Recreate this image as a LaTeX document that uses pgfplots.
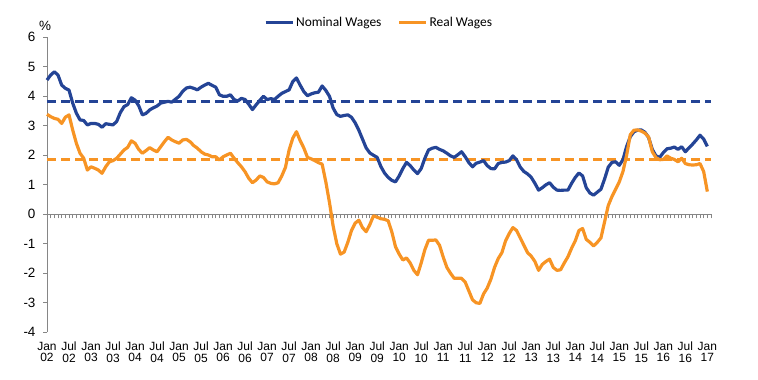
\documentclass[border=0pt]{standalone}
\usepackage{fontspec}
\setmainfont{Liberation Sans}
\newfontfamily\legendfont{Carlito}
\usepackage{pgfplots}
\usepackage{pgfplotstable}
\pgfplotsset{compat=1.18}
\definecolor{nomblue}{RGB}{36,68,150}
\definecolor{realorange}{RGB}{247,148,36}
\definecolor{axgray}{RGB}{134,134,134}

\pgfplotstableread{
m nom real
0 4.55 3.39
1 4.72 3.31
2 4.83 3.25
3 4.72 3.22
4 4.38 3.08
5 4.27 3.29
6 4.21 3.37
7 3.77 2.86
8 3.43 2.41
9 3.20 2.07
10 3.18 1.90
11 3.03 1.50
12 3.08 1.61
13 3.08 1.56
14 3.05 1.50
15 2.95 1.39
16 3.07 1.61
17 3.05 1.78
18 3.03 1.82
19 3.15 1.90
20 3.45 2.04
21 3.65 2.18
22 3.72 2.27
23 3.95 2.49
24 3.87 2.41
25 3.68 2.20
26 3.37 2.07
27 3.42 2.16
28 3.54 2.26
29 3.61 2.18
30 3.67 2.12
31 3.77 2.29
32 3.80 2.46
33 3.83 2.61
34 3.80 2.52
35 3.90 2.46
36 4.00 2.41
37 4.17 2.52
38 4.28 2.54
39 4.31 2.46
40 4.27 2.33
41 4.22 2.24
42 4.31 2.12
43 4.38 2.04
44 4.44 2.01
45 4.37 1.95
46 4.31 1.95
47 4.05 1.84
48 4.00 1.95
49 4.00 2.01
50 4.05 2.07
51 3.89 1.90
52 3.84 1.75
53 3.93 1.61
54 3.89 1.44
55 3.73 1.22
56 3.55 1.07
57 3.71 1.16
58 3.86 1.30
59 4.00 1.25
60 3.89 1.10
61 3.92 1.05
62 3.89 1.03
63 4.00 1.07
64 4.10 1.30
65 4.16 1.59
66 4.22 2.18
67 4.50 2.58
68 4.62 2.80
69 4.38 2.50
70 4.16 2.25
71 4.02 1.93
72 4.08 1.88
73 4.12 1.82
74 4.14 1.75
75 4.35 1.70
76 4.20 1.10
77 4.00 0.40
78 3.60 -0.40
79 3.38 -1.00
80 3.32 -1.35
81 3.35 -1.28
82 3.37 -0.95
83 3.29 -0.55
84 3.10 -0.30
85 2.85 -0.20
86 2.55 -0.45
87 2.25 -0.59
88 2.08 -0.35
89 2.00 -0.05
90 1.93 -0.10
91 1.62 -0.15
92 1.40 -0.17
93 1.25 -0.22
94 1.15 -0.60
95 1.10 -1.10
96 1.30 -1.35
97 1.55 -1.55
98 1.76 -1.48
99 1.65 -1.65
100 1.50 -1.90
101 1.38 -2.05
102 1.55 -1.65
103 1.90 -1.20
104 2.18 -0.88
105 2.24 -0.88
106 2.27 -0.87
107 2.20 -1.05
108 2.15 -1.45
109 2.07 -1.80
110 1.98 -2.00
111 1.93 -2.17
112 2.02 -2.17
113 2.12 -2.17
114 1.95 -2.30
115 1.75 -2.60
116 1.61 -2.90
117 1.73 -3.00
118 1.77 -3.02
119 1.82 -2.70
120 1.65 -2.50
121 1.55 -2.20
122 1.54 -1.80
123 1.72 -1.50
124 1.76 -1.30
125 1.77 -0.90
126 1.82 -0.65
127 1.98 -0.45
128 1.85 -0.55
129 1.60 -0.80
130 1.45 -1.05
131 1.37 -1.30
132 1.25 -1.42
133 1.05 -1.60
134 0.82 -1.90
135 0.90 -1.70
136 1.00 -1.60
137 1.07 -1.52
138 0.92 -1.80
139 0.82 -1.90
140 0.81 -1.88
141 0.82 -1.65
142 0.82 -1.44
143 1.05 -1.15
144 1.25 -0.90
145 1.40 -0.55
146 1.30 -0.48
147 0.90 -0.85
148 0.72 -0.95
149 0.65 -1.07
150 0.75 -0.95
151 0.85 -0.80
152 1.20 -0.25
153 1.60 0.30
154 1.76 0.60
155 1.78 0.85
156 1.66 1.10
157 1.85 1.45
158 2.30 2.00
159 2.63 2.70
160 2.80 2.85
161 2.85 2.86
162 2.86 2.82
163 2.78 2.75
164 2.60 2.62
165 2.20 2.12
166 1.98 1.92
167 1.93 1.85
168 2.09 1.86
169 2.22 1.98
170 2.24 1.90
171 2.28 1.86
172 2.20 1.78
173 2.29 1.90
174 2.12 1.72
175 2.25 1.68
176 2.38 1.67
177 2.52 1.68
178 2.68 1.72
179 2.55 1.45
180 2.30 0.77
}\wagedata

\begin{document}
\begin{tikzpicture}
\useasboundingbox (0,0) rectangle (758bp,380bp);
% zero line with monthly ticks
\begin{axis}[
  at={(47bp,47.7bp)}, anchor=south west,
  scale only axis, width=664bp, height=295bp,
  xmin=0, xmax=181, ymin=-4, ymax=6,
  axis x line*=middle, axis y line=none,
  x axis line style={draw=axgray, line width=1pt},
  xtick={0,...,181}, xticklabels={},
  ytick=\empty,
  tick align=outside, major tick length=4bp,
  x tick style={draw=axgray, line width=0.7pt},
]
\end{axis}
\begin{axis}[
  at={(47bp,47.7bp)}, anchor=south west,
  scale only axis, width=664bp, height=295bp,
  xmin=0, xmax=181, ymin=-4, ymax=6,
  axis y line*=left, axis x line*=bottom,
  x axis line style={draw=none},
  y axis line style={draw=axgray, line width=1pt},
  ytick={-4,...,6},
  yticklabels={-4,-3,-2,-1,0,1,2,3,4,5,6},
  y tick style={draw=axgray, line width=1pt},
  tick align=outside, major tick length=4bp,
  yticklabel style={font=\fontsize{13.5}{15}\selectfont, xshift=-4bp},
  xtick={0,6,...,180},
  xticklabels={{Jan\\02},{Jul\\02},{Jan\\03},{Jul\\03},{Jan\\04},{Jul\\04},{Jan\\05},{Jul\\05},{Jan\\06},{Jul\\06},{Jan\\07},{Jul\\07},{Jan\\08},{Jul\\08},{Jan\\09},{Jul\\09},{Jan\\10},{Jul\\10},{Jan\\11},{Jul\\11},{Jan\\12},{Jul\\12},{Jan\\13},{Jul\\13},{Jan\\14},{Jul\\14},{Jan\\15},{Jul\\15},{Jan\\16},{Jul\\16},{Jan\\17}},
  x tick style={draw=none},
  xticklabel style={align=center, font=\fontsize{12}{11.8}\selectfont, yshift=-2bp},
  legend style={at={(0.5,1.051)}, anchor=center, draw=none, fill=none,
    legend columns=2, font=\legendfont\fontsize{13.5}{15}\selectfont,
    /tikz/every even column/.append style={column sep=14bp}, inner sep=0pt},
  legend image code/.code={\draw[#1] (0bp,0bp) -- (27bp,0bp);},
  clip=false,
]
\addplot[nomblue, line width=3pt, dash pattern=on 9bp off 5bp, forget plot] coordinates {(0,3.84) (181,3.84)};
\addplot[realorange, line width=3pt, dash pattern=on 9bp off 5bp, forget plot] coordinates {(0,1.86) (181,1.86)};
\addplot[nomblue, line width=3.2pt, line join=round] table[x=m, y=nom] {\wagedata};
\addlegendentry{Nominal Wages}
\addplot[realorange, line width=3.2pt, line join=round] table[x=m, y=real] {\wagedata};
\addlegendentry{Real Wages}
\node[font=\fontsize{13.5}{15}\selectfont] at ([yshift=11bp,xshift=-2bp]rel axis cs:0,1) {\%};
\end{axis}
\end{tikzpicture}
\end{document}
